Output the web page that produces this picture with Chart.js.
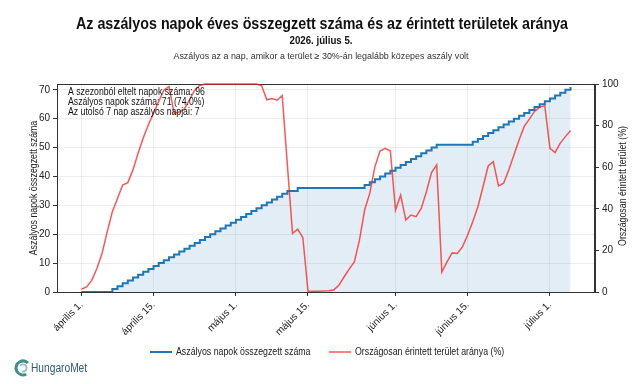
<!DOCTYPE html>
<html>
<head>
<meta charset="utf-8">
<script src="https://cdn.jsdelivr.net/npm/chart.js@4"></script>
<style>
  html, body { margin: 0; padding: 0; background: #fff; }
  #wrap { width: 640px; height: 384px; }
</style>
</head>
<body>
<div id="wrap"><canvas id="chart" width="640" height="384"></canvas></div>
<script>
const FONT = "'Liberation Sans', Arial, sans-serif"

// napok április 1-től (0 = ápr. 1.)
const tickDays   = [0, 14, 30, 44, 61, 75, 91]
const tickLabels = ['április 1.', 'április 15.', 'május 1.', 'május 15.', 'június 1.', 'június 15.', 'július 1.']

// aszályos napok összegzett száma (ápr. 1. – júl. 5.)
const cumDays = [
    0, 0, 0, 0, 0, 0, 1, 2, 3, 4, 5, 6, 7, 8, 9, 10,
    11, 12, 13, 14, 15, 16, 17, 18, 19, 20, 21, 22, 23, 24, 25, 26,
    27, 28, 29, 30, 31, 32, 33, 34, 35, 35, 36, 36, 36, 36, 36, 36,
    36, 36, 36, 36, 36, 36, 36, 37, 38, 39, 40, 41, 42, 43, 44, 45,
    46, 47, 48, 49, 50, 51, 51, 51, 51, 51, 51, 51, 52, 53, 54, 55,
    56, 57, 58, 59, 60, 61, 62, 63, 64, 65, 66, 67, 68, 69, 70, 71
]

// országosan érintett terület aránya (%)
const areaPct = [
    1.3, 2.4, 5.6, 11.3, 18.5, 28.9, 38.6, 45, 51.4, 52.6, 58.7, 66.7, 74, 80.4, 86, 91.6,
    97, 98.8, 86, 86.5, 88, 92.5, 97, 99.3, 100, 100, 100, 100, 100, 100, 100, 100,
    100, 100, 100, 99.2, 92.4, 93, 92.2, 94.4, 61, 28.1, 30.2, 26.2, 0.5, 0.4, 0.4, 0.5,
    0.6, 1, 3.2, 7.2, 11, 14.5, 24.9, 39.4, 47.4, 60.3, 67.8, 69.1, 67.8, 39.4, 46.6, 34.6,
    37, 36.2, 40.2, 48.2, 57.4, 61.1, 9.6, 14.5, 18.8, 18.5, 21.7, 27.3, 33.8, 41, 50.6, 60.6,
    62.7, 51, 52.3, 58.7, 65.9, 73.1, 79.6, 83.1, 86.8, 88.9, 89.5, 69.1, 67, 71.6, 74.7, 77.6
]

const leftTicks  = [0, 10, 20, 30, 40, 50, 60, 70]
const rightTicks = [0, 20, 40, 60, 80, 100]

const infoLines = [
    'A szezonból eltelt napok száma: 96',
    'Aszályos napok száma: 71 (74.0%)',
    'Az utolsó 7 nap aszályos napjai: 7'
]

const BLUE = '#1f77b4'
const RED  = 'rgba(255, 30, 30, 0.75)'

const gridColor = 'rgba(0,0,0,0.07)'

// keskenyebb betűkép: vízszintesen összenyomott szöveg
function narrowText(ctx, s, x, y, sx, rot) {
    ctx.save()
    ctx.translate(x, y)
    if (rot) ctx.rotate(rot)
    ctx.scale(sx, 1)
    ctx.fillText(s, 0, 0)
    ctx.restore()
}

// ─── Keret a görbék alatt ─────────────────────────────────────────────────────

const frame = {
    id: 'frame',
    beforeDatasetsDraw(chart) {
        const { ctx, chartArea: a } = chart
        ctx.save()
        ctx.strokeStyle = '#333'
        ctx.lineWidth = 1
        ctx.strokeRect(a.left + 0.5, a.top + 0.5, a.right - a.left - 1, a.bottom - a.top)
        ctx.restore()
    }
}

// ─── Feliratok, jelmagyarázat, logó ───────────────────────────────────────────

const decorations = {
    id: 'decorations',
    afterDraw(chart) {
        const { ctx } = chart
        ctx.save()

        ctx.fillStyle = '#111'
        ctx.textAlign = 'center'
        ctx.textBaseline = 'middle'
        ctx.font = `bold 17px ${FONT}`
        narrowText(ctx, 'Az aszályos napok éves összegzett száma és az érintett területek aránya', 322, 24, 0.84)
        ctx.font = `bold 11px ${FONT}`
        narrowText(ctx, '2026. július 5.', 321, 41, 0.88)
        ctx.fillStyle = '#333'
        ctx.font = `9px ${FONT}`
        narrowText(ctx, 'Aszályos az a nap, amikor a terület ≥ 30%-án legalább közepes aszály volt', 321, 57, 0.99)

        // info szöveg
        ctx.fillStyle = '#111'
        ctx.textAlign = 'left'
        ctx.font = `10px ${FONT}`
        infoLines.forEach((t, i) => narrowText(ctx, t, 68, 92 + i * 10, 0.87))

        // tengelycímek
        ctx.fillStyle = '#222'
        ctx.textAlign = 'center'
        ctx.font = `10px ${FONT}`
        narrowText(ctx, 'Aszályos napok összegzett száma', 34, 188, 0.88, -Math.PI / 2)
        narrowText(ctx, 'Országosan érintett terület (%)', 623, 186, 0.88, -Math.PI / 2)

        // jelmagyarázat
        ctx.textAlign = 'left'
        ctx.lineWidth = 2
        ctx.strokeStyle = BLUE
        ctx.beginPath(); ctx.moveTo(150, 352); ctx.lineTo(172, 352); ctx.stroke()
        narrowText(ctx, 'Aszályos napok összegzett száma', 176, 352, 0.88)
        ctx.lineWidth = 1.5
        ctx.strokeStyle = RED
        ctx.beginPath(); ctx.moveTo(329, 352); ctx.lineTo(351, 352); ctx.stroke()
        narrowText(ctx, 'Országosan érintett terület aránya (%)', 355, 352, 0.88)

        // logó
        ctx.lineWidth = 3
        ctx.strokeStyle = '#3f8f8a'
        ctx.beginPath(); ctx.arc(23, 368, 7, Math.PI * 0.35, Math.PI * 1.75); ctx.stroke()
        ctx.strokeStyle = '#9cc0be'
        ctx.lineWidth = 2
        ctx.beginPath(); ctx.arc(23, 368, 3.5, Math.PI * 1.2, Math.PI * 2.6); ctx.stroke()
        ctx.fillStyle = '#2d5d6e'
        ctx.font = `12px ${FONT}`
        narrowText(ctx, 'HungaroMet', 31, 369, 0.85)

        ctx.restore()
    }
}

new Chart(document.getElementById('chart'), {
    type: 'line',
    data: {
        datasets: [
            {
                label: 'Aszályos napok összegzett száma',
                data: cumDays.map((v, i) => ({ x: i, y: v })),
                yAxisID: 'y',
                stepped: true,
                borderColor: BLUE,
                borderWidth: 2,
                backgroundColor: 'rgba(31, 119, 180, 0.13)',
                fill: 'origin',
                pointRadius: 0,
                order: 2,
            },
            {
                label: 'Országosan érintett terület aránya (%)',
                data: areaPct.map((v, i) => ({ x: i, y: v })),
                yAxisID: 'y2',
                borderColor: RED,
                borderWidth: 1.5,
                fill: false,
                pointRadius: 0,
                tension: 0,
                clip: 2,
                order: 1,
            }
        ]
    },
    options: {
        responsive: false,
        animation: false,
        layout: { padding: { top: 84, bottom: 32, left: 0, right: 0 } },
        plugins: {
            legend: { display: false },
            tooltip: { enabled: false }
        },
        scales: {
            x: {
                type: 'linear',
                min: -4.75,
                max: 99.75,
                afterBuildTicks: s => { s.ticks = tickDays.map(v => ({ value: v })) },
                afterFit: s => { s.height = 60 },
                grid: { color: gridColor, tickColor: '#333', tickLength: 4 },
                border: { color: '#333' },
                ticks: {
                    font: { size: 10, family: FONT },
                    color: '#222',
                    minRotation: 45,
                    maxRotation: 45,
                    padding: 3,
                    autoSkip: false,
                    callback: v => tickLabels[tickDays.indexOf(v)] || ''
                }
            },
            y: {
                position: 'left',
                min: 0,
                max: 72,
                afterBuildTicks: s => { s.ticks = leftTicks.map(v => ({ value: v })) },
                afterFit: s => { s.width = 57 },
                grid: { color: gridColor, tickColor: '#333', tickLength: 4 },
                border: { color: '#333' },
                ticks: { font: { size: 10, family: FONT }, color: '#222', padding: 3 }
            },
            y2: {
                position: 'right',
                min: 0,
                max: 100,
                afterBuildTicks: s => { s.ticks = rightTicks.map(v => ({ value: v })) },
                afterFit: s => { s.width = 45 },
                grid: { drawOnChartArea: false, tickColor: '#333', tickLength: 4 },
                border: { color: '#333' },
                ticks: { font: { size: 10, family: FONT }, color: '#222', padding: 3 }
            }
        }
    },
    plugins: [frame, decorations]
})
</script>
</body>
</html>
